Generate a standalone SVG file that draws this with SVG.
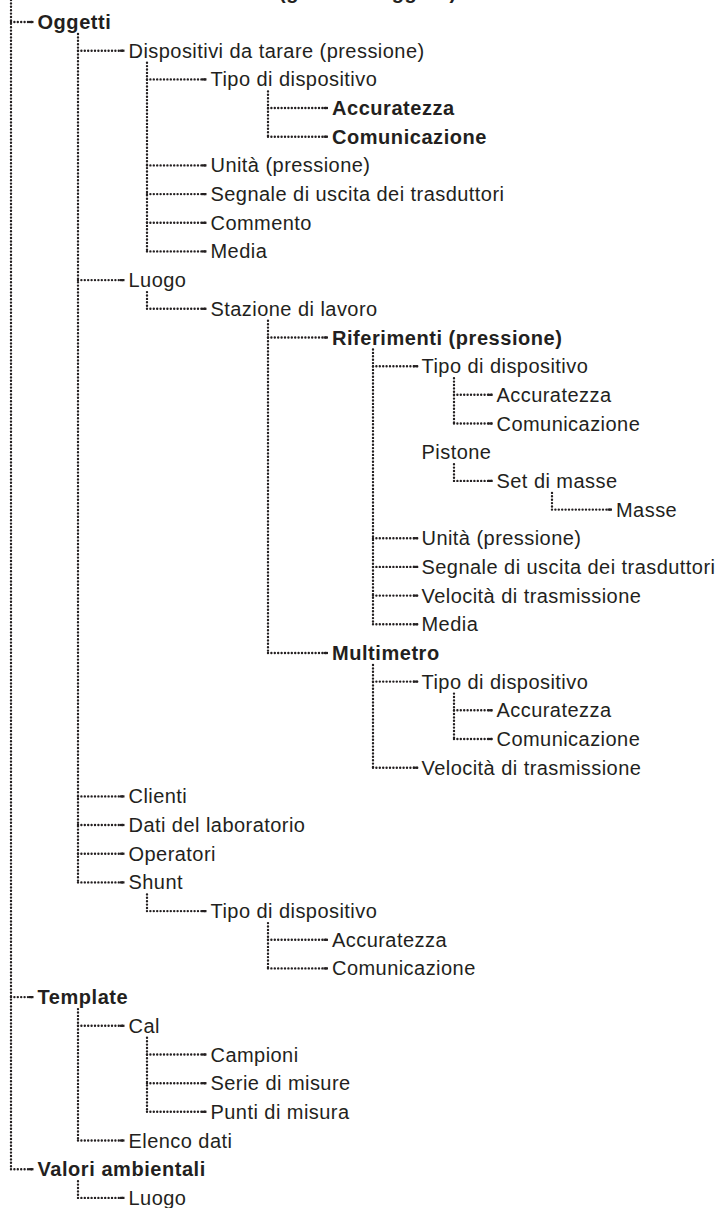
<svg xmlns="http://www.w3.org/2000/svg" width="719" height="1208" viewBox="0 0 719 1208">
<style>
text{font-family:"Liberation Sans",Arial,Helvetica,sans-serif;font-size:20px;fill:#231f20;letter-spacing:0.45px}
.b{font-weight:bold;letter-spacing:0.55px}
.v,.h{fill:none;stroke:#231f20;stroke-width:2.4;stroke-linecap:round;stroke-dasharray:0 3.4}
.h{marker-end:url(#dash)}
</style>
<defs>
<marker id="dash" markerUnits="userSpaceOnUse" markerWidth="7" markerHeight="4" refX="5" refY="2" orient="auto"><path d="M0.5,2H5" stroke="#231f20" stroke-width="2.2"/></marker>
</defs>
<rect width="719" height="1208" fill="#fff"/>
<g id="title"><text class="b" x="279" y="-1">(gestione oggetti)</text></g>
<g id="connectors">
<path class="v" d="M11,0V1169.2"/>
<path class="v" d="M78,34V882.4"/>
<path class="v" d="M147,62.7V251.4"/>
<path class="v" d="M268,91.4V136.7"/>
<path class="v" d="M147,292.1V308.8"/>
<path class="v" d="M268,320.8V653"/>
<path class="v" d="M373,349.5V624.3"/>
<path class="v" d="M454,378.2V423.5"/>
<path class="v" d="M454,464.2V480.9"/>
<path class="v" d="M552,492.9V509.6"/>
<path class="v" d="M373,665V767.7"/>
<path class="v" d="M454,693.6V739"/>
<path class="v" d="M147,894.4V911.1"/>
<path class="v" d="M268,923.1V968.4"/>
<path class="v" d="M78,1009.1V1140.5"/>
<path class="v" d="M147,1037.8V1111.8"/>
<path class="v" d="M78,1181.2V1197.9"/>
<path class="h" d="M11,22H33.5"/>
<path class="h" d="M78,50.7H124.5"/>
<path class="h" d="M147,79.4H206.5"/>
<path class="h" d="M268,108H328"/>
<path class="h" d="M268,136.7H328"/>
<path class="h" d="M147,165.4H206.5"/>
<path class="h" d="M147,194.1H206.5"/>
<path class="h" d="M147,222.8H206.5"/>
<path class="h" d="M147,251.4H206.5"/>
<path class="h" d="M78,280.1H124.5"/>
<path class="h" d="M147,308.8H206.5"/>
<path class="h" d="M268,337.5H328"/>
<path class="h" d="M373,366.2H417.5"/>
<path class="h" d="M454,394.8H492.5"/>
<path class="h" d="M454,423.5H492.5"/>
<path class="h" d="M454,480.9H492.5"/>
<path class="h" d="M552,509.6H612"/>
<path class="h" d="M373,538.2H417.5"/>
<path class="h" d="M373,566.9H417.5"/>
<path class="h" d="M373,595.6H417.5"/>
<path class="h" d="M373,624.3H417.5"/>
<path class="h" d="M268,653H328"/>
<path class="h" d="M373,681.6H417.5"/>
<path class="h" d="M454,710.3H492.5"/>
<path class="h" d="M454,739H492.5"/>
<path class="h" d="M373,767.7H417.5"/>
<path class="h" d="M78,796.4H124.5"/>
<path class="h" d="M78,825H124.5"/>
<path class="h" d="M78,853.7H124.5"/>
<path class="h" d="M78,882.4H124.5"/>
<path class="h" d="M147,911.1H206.5"/>
<path class="h" d="M268,939.8H328"/>
<path class="h" d="M268,968.4H328"/>
<path class="h" d="M11,997.1H33.5"/>
<path class="h" d="M78,1025.8H124.5"/>
<path class="h" d="M147,1054.5H206.5"/>
<path class="h" d="M147,1083.2H206.5"/>
<path class="h" d="M147,1111.8H206.5"/>
<path class="h" d="M78,1140.5H124.5"/>
<path class="h" d="M11,1169.2H33.5"/>
<path class="h" d="M78,1197.9H124.5"/>
</g>
<g id="nodes">
<g id="n-oggetti"><text class="b" x="37.5" y="29">Oggetti</text></g>
<g id="n-dispositivi"><text x="128.5" y="57.7">Dispositivi da tarare (pressione)</text></g>
<g id="n-disp-tipo"><text x="210.5" y="86.4">Tipo di dispositivo</text></g>
<g id="n-disp-tipo-acc"><text class="b" x="332" y="115">Accuratezza</text></g>
<g id="n-disp-tipo-com"><text class="b" x="332" y="143.7">Comunicazione</text></g>
<g id="n-disp-unita"><text x="210.5" y="172.4">Unità (pressione)</text></g>
<g id="n-disp-segnale"><text x="210.5" y="201.1">Segnale di uscita dei trasduttori</text></g>
<g id="n-disp-commento"><text x="210.5" y="229.8">Commento</text></g>
<g id="n-disp-media"><text x="210.5" y="258.4">Media</text></g>
<g id="n-luogo"><text x="128.5" y="287.1">Luogo</text></g>
<g id="n-stazione"><text x="210.5" y="315.8">Stazione di lavoro</text></g>
<g id="n-riferimenti"><text class="b" x="332" y="344.5">Riferimenti (pressione)</text></g>
<g id="n-rif-tipo"><text x="421.5" y="373.2">Tipo di dispositivo</text></g>
<g id="n-rif-tipo-acc"><text x="496.5" y="401.8">Accuratezza</text></g>
<g id="n-rif-tipo-com"><text x="496.5" y="430.5">Comunicazione</text></g>
<g id="n-rif-pistone"><text x="421.5" y="459.2">Pistone</text></g>
<g id="n-rif-set"><text x="496.5" y="487.9">Set di masse</text></g>
<g id="n-rif-masse"><text x="616" y="516.6">Masse</text></g>
<g id="n-rif-unita"><text x="421.5" y="545.2">Unità (pressione)</text></g>
<g id="n-rif-segnale"><text x="421.5" y="573.9">Segnale di uscita dei trasduttori</text></g>
<g id="n-rif-velocita"><text x="421.5" y="602.6">Velocità di trasmissione</text></g>
<g id="n-rif-media"><text x="421.5" y="631.3">Media</text></g>
<g id="n-multimetro"><text class="b" x="332" y="660">Multimetro</text></g>
<g id="n-mul-tipo"><text x="421.5" y="688.6">Tipo di dispositivo</text></g>
<g id="n-mul-tipo-acc"><text x="496.5" y="717.3">Accuratezza</text></g>
<g id="n-mul-tipo-com"><text x="496.5" y="746">Comunicazione</text></g>
<g id="n-mul-velocita"><text x="421.5" y="774.7">Velocità di trasmissione</text></g>
<g id="n-clienti"><text x="128.5" y="803.4">Clienti</text></g>
<g id="n-dati"><text x="128.5" y="832">Dati del laboratorio</text></g>
<g id="n-operatori"><text x="128.5" y="860.7">Operatori</text></g>
<g id="n-shunt"><text x="128.5" y="889.4">Shunt</text></g>
<g id="n-shunt-tipo"><text x="210.5" y="918.1">Tipo di dispositivo</text></g>
<g id="n-shunt-tipo-acc"><text x="332" y="946.8">Accuratezza</text></g>
<g id="n-shunt-tipo-com"><text x="332" y="975.4">Comunicazione</text></g>
<g id="n-template"><text class="b" x="37.5" y="1004.1">Template</text></g>
<g id="n-cal"><text x="128.5" y="1032.8">Cal</text></g>
<g id="n-campioni"><text x="210.5" y="1061.5">Campioni</text></g>
<g id="n-serie"><text x="210.5" y="1090.2">Serie di misure</text></g>
<g id="n-punti"><text x="210.5" y="1118.8">Punti di misura</text></g>
<g id="n-elenco"><text x="128.5" y="1147.5">Elenco dati</text></g>
<g id="n-valori"><text class="b" x="37.5" y="1176.2">Valori ambientali</text></g>
<g id="n-val-luogo"><text x="128.5" y="1204.9">Luogo</text></g>
</g>
</svg>
